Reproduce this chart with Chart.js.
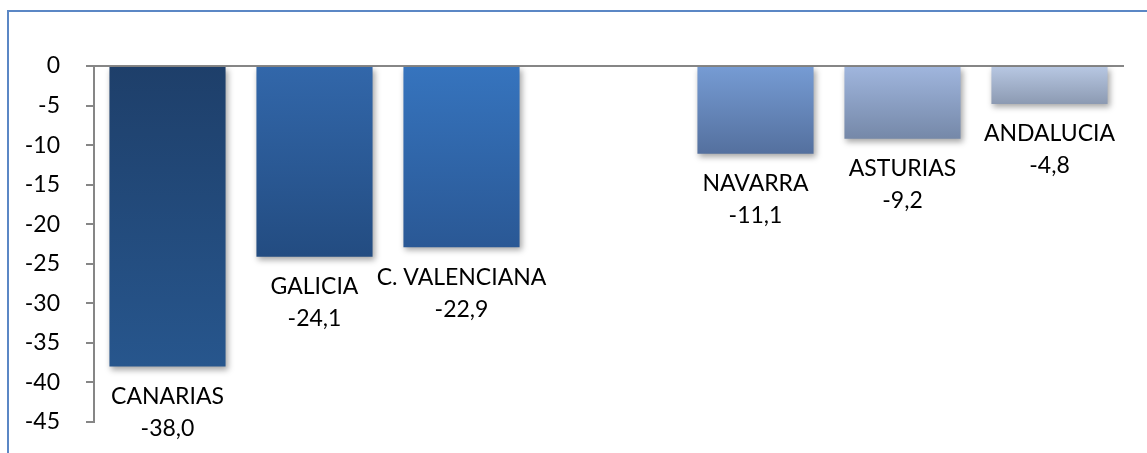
<!DOCTYPE html>
<html>
<head>
<meta charset="utf-8">
<script src="https://cdn.jsdelivr.net/npm/chart.js@4"></script>
<style>
  html, body { margin: 0; padding: 0; background: #fff; overflow: hidden; }
  #wrap { position: relative; width: 1147px; height: 453px; }
  #frame {
    position: absolute; left: 7px; top: 10px; width: 1200px; height: 500px;
    border-left: 2px solid #5b87c5; border-top: 2px solid #5b87c5;
  }
  canvas { position: absolute; left: 0; top: 0; }
</style>
</head>
<body>
<div id="wrap">
  <div id="frame"></div>
  <canvas id="bar_chart" width="1147" height="453"></canvas>
</div>
<script>
"use strict";

// regiones (la 4a posición queda vacía en el original)
var regions = ["CANARIAS", "GALICIA", "C. VALENCIANA", "", "NAVARRA", "ASTURIAS", "ANDALUCIA"];
var values = [-38.0, -24.1, -22.9, null, -11.1, -9.2, -4.8];
var yTicks = [0, -5, -10, -15, -20, -25, -30, -35, -40, -45];

// degradado de cada barra: color arriba (en 0) y abajo (al final de la barra)
var topColors = ["#1e3f6a", "#3267aa", "#3674be", "#ffffff", "#769cd4", "#a0b6de", "#b8c8e3"];
var bottomColors = ["#27568d", "#234c81", "#2a5895", "#ffffff", "#54709e", "#7588a8", "#8c9ab2"];

function barGradient(context) {
  var chart = context.chart;
  var i = context.dataIndex;
  if (!chart.chartArea || values[i] === null) return "#ffffff";
  var y = chart.scales.y;
  var g = chart.ctx.createLinearGradient(0, y.getPixelForValue(0), 0, y.getPixelForValue(values[i]));
  g.addColorStop(0, topColors[i]);
  g.addColorStop(1, bottomColors[i]);
  return g;
}

// sombra suave bajo las barras
var barShadow = {
  id: "barShadow",
  beforeDatasetsDraw: function (chart) {
    var ctx = chart.ctx;
    ctx.save();
    ctx.shadowColor = "rgba(0, 0, 0, 0.35)";
    ctx.shadowBlur = 6;
    ctx.shadowOffsetX = 2;
    ctx.shadowOffsetY = 3;
  },
  afterDatasetsDraw: function (chart) {
    chart.ctx.restore();
  }
};

// etiqueta (nombre + valor) debajo de cada barra
var barLabels = {
  id: "barLabels",
  afterDatasetsDraw: function (chart) {
    var ctx = chart.ctx;
    var meta = chart.getDatasetMeta(0);
    ctx.save();
    ctx.fillStyle = "#000";
    ctx.font = "23px Lato";
    ctx.textAlign = "center";
    ctx.textBaseline = "middle";
    meta.data.forEach(function (bar, i) {
      if (values[i] === null) return;
      ctx.fillText(regions[i], bar.x, bar.y + 30);
      ctx.fillText(values[i].toFixed(1).replace(".", ","), bar.x, bar.y + 62);
    });
    ctx.restore();
  }
};

var ctx = document.getElementById("bar_chart");

new Chart(ctx, {
  type: "bar",
  data: {
    labels: regions,
    datasets: [{
      data: values,
      backgroundColor: barGradient,
      borderWidth: 0,
      categoryPercentage: 0.79,
      barPercentage: 1
    }]
  },
  options: {
    responsive: false,
    animation: false,
    layout: {
      padding: { left: 0, right: 24, top: 66, bottom: 31 }
    },
    scales: {
      x: {
        position: "top",
        grid: { display: false, drawTicks: false },
        border: { color: "#868686", width: 2 },
        ticks: { display: false },
        afterFit: function (scale) { scale.height = 0; }
      },
      y: {
        min: -45,
        max: 0,
        afterFit: function (scale) {
          scale.width = 94;
          scale.paddingTop = 0;
          scale.paddingBottom = 0;
        },
        afterBuildTicks: function (scale) {
          scale.ticks = yTicks.map(function (v) { return { value: v }; });
        },
        grid: {
          drawOnChartArea: false,
          drawTicks: true,
          tickLength: 8,
          color: "#868686",
          lineWidth: 2
        },
        border: { color: "#868686", width: 2 },
        ticks: {
          color: "#000",
          padding: 26,
          font: { family: "Lato", size: 23 }
        }
      }
    },
    plugins: {
      legend: { display: false },
      tooltip: { enabled: false }
    }
  },
  plugins: [barShadow, barLabels]
});
</script>
</body>
</html>
